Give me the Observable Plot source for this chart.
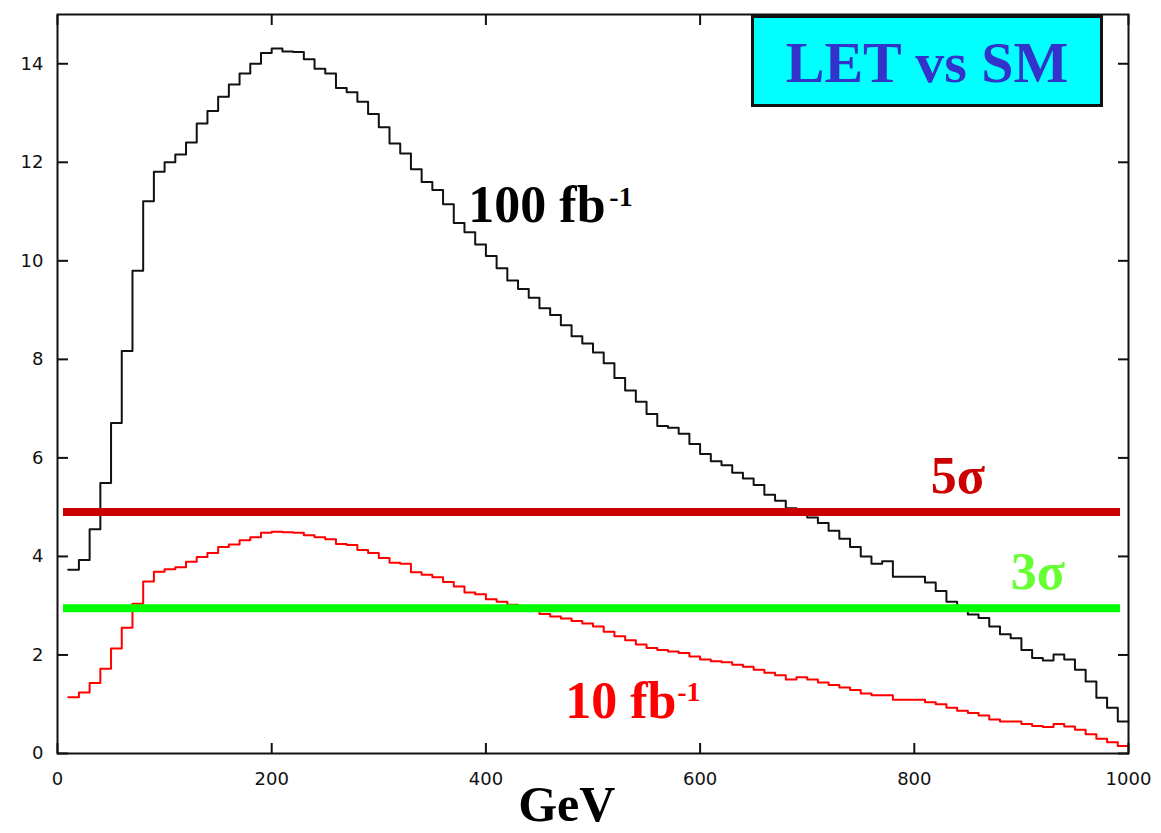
<!DOCTYPE html>
<html>
<head>
<meta charset="utf-8">
<script src="https://cdn.jsdelivr.net/npm/d3@7"></script>
<script src="https://cdn.jsdelivr.net/npm/@observablehq/plot@0.6"></script>
<style>
  html, body { margin: 0; padding: 0; background: #fff; }
  #wrap { position: relative; width: 1161px; height: 833px; }
  #title {
    position: absolute; left: 751px; top: 15px; width: 352px; height: 92px;
    box-sizing: border-box; border: 3px solid #111; background: #00ffff;
    display: flex; align-items: center; justify-content: center;
    font-family: "Liberation Serif", "Times New Roman", serif; font-weight: bold;
    font-size: 58px; color: #3333cc; line-height: 1; padding-top: 4px;
  }
</style>
</head>
<body>
<div id="wrap"><div id="title">LET vs SM</div></div>
<script>
// Histogram bin edges (GeV): 99 bins of 10 GeV from 10 to 1000
const binEdges = d3.range(10, 1001, 10);

// 100 fb^-1 significance per bin (black)
const sig100 = [
  3.73, 3.93, 4.55, 5.49, 6.71, 8.17, 9.80, 11.21, 11.81, 12.00,
  12.16, 12.40, 12.79, 13.04, 13.33, 13.58, 13.80, 14.00, 14.22, 14.31,
  14.25, 14.24, 14.09, 13.90, 13.80, 13.51, 13.42, 13.23, 12.98, 12.71,
  12.38, 12.18, 11.86, 11.60, 11.44, 11.15, 10.77, 10.58, 10.33, 10.10,
  9.85, 9.60, 9.43, 9.25, 9.04, 8.90, 8.69, 8.47, 8.32, 8.14,
  7.92, 7.62, 7.37, 7.14, 6.89, 6.65, 6.61, 6.49, 6.28, 6.08,
  5.93, 5.85, 5.70, 5.58, 5.45, 5.25, 5.13, 4.98, 4.88, 4.79,
  4.68, 4.52, 4.36, 4.19, 4.00, 3.85, 3.90, 3.59, 3.59, 3.59,
  3.47, 3.30, 3.08, 2.96, 2.82, 2.75, 2.58, 2.42, 2.34, 2.10,
  1.94, 1.89, 2.01, 1.91, 1.70, 1.46, 1.13, 0.93, 0.65
];

// 10 fb^-1 significance per bin (red)
const sig10 = [
  1.14, 1.24, 1.43, 1.72, 2.13, 2.55, 3.04, 3.49, 3.69, 3.74,
  3.78, 3.89, 3.99, 4.07, 4.19, 4.24, 4.33, 4.39, 4.48, 4.50,
  4.49, 4.48, 4.43, 4.39, 4.35, 4.25, 4.23, 4.13, 4.07, 3.97,
  3.87, 3.85, 3.68, 3.63, 3.58, 3.48, 3.39, 3.27, 3.23, 3.13,
  3.08, 3.02, 2.96, 2.90, 2.83, 2.78, 2.74, 2.69, 2.64, 2.58,
  2.47, 2.38, 2.30, 2.21, 2.14, 2.10, 2.07, 2.04, 1.97, 1.91,
  1.87, 1.85, 1.80, 1.76, 1.70, 1.64, 1.59, 1.50, 1.55, 1.50,
  1.44, 1.39, 1.34, 1.29, 1.22, 1.18, 1.18, 1.09, 1.09, 1.09,
  1.04, 1.00, 0.93, 0.87, 0.82, 0.77, 0.69, 0.65, 0.65, 0.60,
  0.56, 0.54, 0.60, 0.55, 0.48, 0.39, 0.30, 0.23, 0.15
];

// Significance thresholds
const thresholdLabels = ["5σ", "3σ"];
const thresholdValues = [4.9, 2.95];

// Axis ticks
const xTicks = [0, 200, 400, 600, 800, 1000];
const yTicks = [0, 2, 4, 6, 8, 10, 12, 14];

// step series: left edge of each bin, plus closing right edge
function steps(values) {
  const pts = values.map((v, i) => ({x: binEdges[i], y: v}));
  pts.push({x: binEdges[values.length], y: values[values.length - 1]});
  return pts;
}

const serif = "Liberation Serif, Times New Roman, serif";
const tickFont = "DejaVu Sans, sans-serif";
const plain = d => String(d);

const chart = Plot.plot({
  width: 1161,
  height: 833,
  marginLeft: 57,
  marginRight: 33,
  marginTop: 14,
  marginBottom: 80,
  style: {background: "transparent", color: "#111", fontFamily: tickFont, fontSize: "18px", overflow: "visible"},
  x: {domain: [0, 1000]},
  y: {domain: [0, 15]},
  marks: [
    Plot.line(steps(sig100), {x: "x", y: "y", curve: "step-after", stroke: "#111", strokeWidth: 2}),
    Plot.line(steps(sig10), {x: "x", y: "y", curve: "step-after", stroke: "#ff0000", strokeWidth: 2}),
    Plot.ruleY([thresholdValues[0]], {stroke: "#cc0000", strokeWidth: 8, insetLeft: 6, insetRight: 8}),
    Plot.ruleY([thresholdValues[1]], {stroke: "#00ff00", strokeWidth: 8, insetLeft: 6, insetRight: 8}),
    // labels
    Plot.text(["100 fb"], {x: 383.6, y: 10.78, text: d => d, textAnchor: "start", lineAnchor: "bottom",
      fontFamily: serif, fontWeight: "bold", fontSize: 52, fill: "#000"}),
    Plot.text(["-1"], {x: 383.6, y: 10.78, text: d => d, textAnchor: "start", lineAnchor: "bottom", dx: 141, dy: -16,
      fontFamily: serif, fontWeight: "bold", fontSize: 28, fill: "#000"}),
    Plot.text(["10 fb"], {x: 474.1, y: 0.73, text: d => d, textAnchor: "start", lineAnchor: "bottom",
      fontFamily: serif, fontWeight: "bold", fontSize: 52, fill: "#ff0000"}),
    Plot.text(["-1"], {x: 474.1, y: 0.73, text: d => d, textAnchor: "start", lineAnchor: "bottom", dx: 112, dy: -17,
      fontFamily: serif, fontWeight: "bold", fontSize: 28, fill: "#ff0000"}),
    Plot.text([thresholdLabels[0]], {x: 815.4, y: 5.29, text: d => d, textAnchor: "start", lineAnchor: "bottom",
      fontFamily: serif, fontWeight: "bold", fontSize: 52, fill: "#cc0000"}),
    Plot.text([thresholdLabels[1]], {x: 890, y: 3.33, text: d => d, textAnchor: "start", lineAnchor: "bottom",
      fontFamily: serif, fontWeight: "bold", fontSize: 52, fill: "#66ff33"}),
    Plot.text(["GeV"], {x: 475.5, frameAnchor: "bottom", dy: 67, text: d => d, textAnchor: "middle", lineAnchor: "bottom",
      fontFamily: serif, fontWeight: "bold", fontSize: 50, fill: "#000"}),
    // axes: labels
    Plot.axisX(xTicks, {anchor: "bottom", tickSize: 0, tickPadding: 19, label: null, tickFormat: plain, fontSize: 18, fontFamily: tickFont}),
    Plot.axisY(yTicks, {anchor: "left", tickSize: 0, tickPadding: 14, label: null, tickFormat: plain, fontSize: 18, fontFamily: tickFont}),
    // axes: inward ticks on all four sides
    Plot.axisX(xTicks, {anchor: "bottom", tickSize: -10, tickFormat: () => "", label: null, strokeWidth: 2}),
    Plot.axisX(xTicks, {anchor: "top", tickSize: -10, tickFormat: () => "", label: null, strokeWidth: 2}),
    Plot.axisY(yTicks, {anchor: "left", tickSize: -11, tickFormat: () => "", label: null, strokeWidth: 2}),
    Plot.axisY(yTicks, {anchor: "right", tickSize: -11, tickFormat: () => "", label: null, strokeWidth: 2}),
    Plot.frame({stroke: "#111", strokeWidth: 2})
  ]
});
chart.style.position = "absolute";
chart.style.left = "0px";
chart.style.top = "0px";
const wrap = document.getElementById("wrap");
wrap.insertBefore(chart, wrap.firstChild);
</script>
</body>
</html>
